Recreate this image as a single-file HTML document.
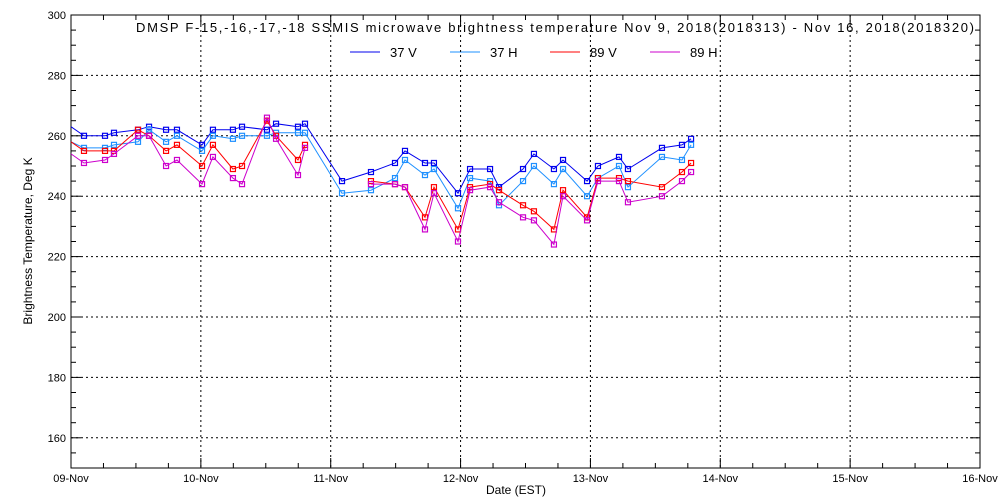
<!DOCTYPE html>
<html><head><meta charset="utf-8"><style>
body{margin:0;background:#fff;}
svg{display:block;font-family:"Liberation Sans",sans-serif;}
</style></head><body>
<svg id="chart" width="1000" height="500">
<text x="136" y="32" font-size="13" textLength="838" lengthAdjust="spacing">DMSP F-15,-16,-17,-18 SSMIS microwave brightness temperature Nov  9, 2018(2018313) - Nov 16, 2018(2018320)</text>
<g id="legend"></g>
<g id="grid"></g><g id="axes"></g><g id="series"></g>
<text x="516" y="494" font-size="12" text-anchor="middle">Date (EST)</text>
<text transform="translate(32,241) rotate(-90)" font-size="12" text-anchor="middle">Brightness Temperature, Deg K</text>
</svg>
<script>
const days=[0,0.10,0.262,0.331,0.516,0.601,0.732,0.816,1.009,1.093,1.247,1.317,1.509,1.579,1.748,1.802,2.087,2.310,2.495,2.572,2.726,2.795,2.980,3.073,3.227,3.296,3.481,3.565,3.719,3.789,3.974,4.058,4.220,4.289,4.551,4.705,4.775];
const v37=[263,260,260,261,262,263,262,262,257,262,262,263,262,264,263,264,245,248,251,255,251,251,241,249,249,243,249,254,249,252,245,250,253,249,256,257,259];
const h37=[258,256,256,257,258,262,258,260,255,260,259,260,260,261,261,261,241,242,246,252,247,249,236,246,245,237,245,250,244,249,240,246,250,243,253,252,257];
const v89=[258,255,255,255,262,260,255,257,250,257,249,250,265,260,252,257,null,245,244,243,233,243,229,243,244,242,237,235,229,242,233,246,246,245,243,248,251];
const h89=[254,251,252,254,260,260,250,252,244,253,246,244,266,259,247,256,null,244,244,243,229,241,225,242,243,238,233,232,224,240,232,245,245,238,240,245,248];
const xTicks=["09-Nov","10-Nov","11-Nov","12-Nov","13-Nov","14-Nov","15-Nov","16-Nov"];
const yTicks=[160,180,200,220,240,260,280,300];
const names=["37 V","37 H","89 V","89 H"];
const colors=["#0000ee","#1e90ff","#ff0000","#cc00cc"];
const L=71,R=980,T=15,B=468,ymin=150,ymax=300;
const X=d=>L+d*(R-L)/7, Y=v=>B-(v-ymin)*(B-T)/(ymax-ymin);
const NS="http://www.w3.org/2000/svg";
function mk(tag,attrs,parent){const e=document.createElementNS(NS,tag);for(const k in attrs)e.setAttribute(k,attrs[k]);parent.appendChild(e);return e;}
const grid=document.getElementById('grid'),axes=document.getElementById('axes'),ser=document.getElementById('series'),leg=document.getElementById('legend');
for(let i=1;i<7;i++){const g=mk('line',{x1:X(i),x2:X(i),y1:T,y2:B,stroke:'#000','stroke-dasharray':'2,3'},grid);}
for(const v of yTicks){if(v>=ymax)continue;const g=mk('line',{x1:L,x2:R,y1:Y(v),y2:Y(v),stroke:'#000','stroke-dasharray':'2,3'},grid);}
const f=mk('rect',{x:L,y:T,width:R-L,height:B-T,fill:'none',stroke:'#000'},axes);

for(let q=0;q<=28;q++){const x=X(q/4),len=q%4?5:10;
mk('line',{x1:x,x2:x,y1:B,y2:B-len,stroke:'#000'},axes);mk('line',{x1:x,x2:x,y1:T,y2:T+len,stroke:'#000'},axes);}
xTicks.forEach((t,i)=>{const e=mk('text',{x:X(i),y:482,'font-size':11,'text-anchor':'middle'},axes);e.textContent=t;});
for(let v=ymin;v<=ymax;v+=5){const y=Y(v),len=v%20===0?10:5;
mk('line',{x1:L,x2:L+len,y1:y,y2:y,stroke:'#000'},axes);mk('line',{x1:R,x2:R-len,y1:y,y2:y,stroke:'#000'},axes);}
yTicks.forEach(v=>{const e=mk('text',{x:L-5,y:Y(v)+4,'font-size':11,'text-anchor':'end'},axes);e.textContent=v;});
[v37,h37,v89,h89].forEach((vals,s)=>{
 const g=mk('g',{},ser);
 let d='',pen=false;
 vals.forEach((v,i)=>{if(v==null){pen=false;return;}d+=(pen?'L':'M')+X(days[i]).toFixed(1)+','+Y(v).toFixed(1);pen=true;});
 const p=mk('path',{d:d,fill:'none',stroke:colors[s],'stroke-width':1},g);
 vals.forEach((v,i)=>{if(v==null||i===0)return;const m=mk('rect',{x:X(days[i])-2.5,y:Y(v)-2.5,width:5,height:5,fill:'none',stroke:colors[s],'stroke-width':1.2},g);});
});
names.forEach((n,i)=>{const x0=350+i*100;
 const l=mk('line',{x1:x0,x2:x0+30,y1:52,y2:52,stroke:colors[i]},leg);
 const t=mk('text',{x:x0+40,y:57,'font-size':13},leg);t.textContent=n;});
</script>
</body></html>
